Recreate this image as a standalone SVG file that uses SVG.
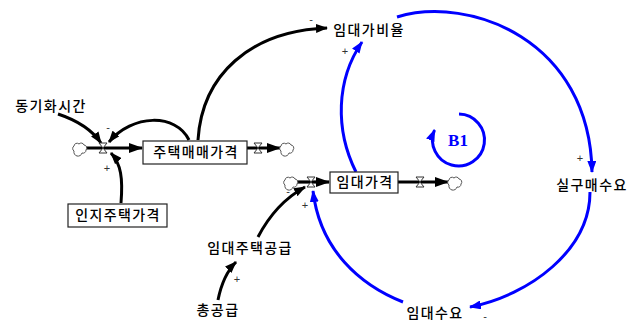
<svg xmlns="http://www.w3.org/2000/svg" width="639" height="323" viewBox="0 0 639 323">
<style>
.lbl{font-family:"Noto Sans CJK KR","Noto Sans",sans-serif;font-size:14px;font-weight:500;letter-spacing:1.4px;fill:#000;text-anchor:middle}
.box{fill:#fff;stroke:#222;stroke-width:1.2}
.pol{font-family:"Liberation Sans",sans-serif;font-size:11px;fill:#333;text-anchor:middle}
.blk{fill:none;stroke:#000;stroke-width:3}
.blu{fill:none;stroke:#0000ff;stroke-width:3}
.pipe{fill:none;stroke:#000;stroke-width:3.2}
.cloud{fill:#fff;stroke:#555;stroke-width:1}
.valve{fill:#fff;stroke:#333;stroke-width:1}
</style>
<defs>
<marker id="ab" viewBox="0 0 12 9" refX="11" refY="4.5" markerWidth="12" markerHeight="9" markerUnits="userSpaceOnUse" orient="auto"><path d="M0,0 L12,4.5 L0,9 z" fill="#000"/></marker>
<marker id="au" viewBox="0 0 12 9" refX="11" refY="4.5" markerWidth="12" markerHeight="9" markerUnits="userSpaceOnUse" orient="auto"><path d="M0,0 L12,4.5 L0,9 z" fill="#0000ff"/></marker>
<marker id="af" viewBox="0 0 14 10" refX="13" refY="5" markerWidth="14" markerHeight="10" markerUnits="userSpaceOnUse" orient="auto"><path d="M0,0 L14,5 L0,10 z" fill="#000"/></marker>
<path id="cl" d="M-6,3 a3,3 0 0 1 0,-5 a3,3 0 0 1 5,-2 a3,3 0 0 1 5,1 a3,3 0 0 1 2,5 a3,3 0 0 1 -4,3 a3.5,3.5 0 0 1 -8,-2 z"/>
<path id="vl" d="M-4,-5 H4 L-4,5 H4 Z"/>
</defs>
<g id="connectors">
<path class="pipe" d="M86,148 L142,148" marker-end="url(#af)"/>
<path class="pipe" d="M247,148 L280,148" marker-end="url(#af)"/>
<path class="pipe" d="M297,182 L329,182" marker-end="url(#af)"/>
<path class="pipe" d="M398,182 L448,182" marker-end="url(#af)"/>
<path class="blk" d="M58,114 Q88,124 101,143" marker-end="url(#ab)"/>
<path class="blk" d="M189,140 C176,113 132,114 109,142" marker-end="url(#ab)"/>
<path class="blk" d="M121,203 C123,178 121,164 111,153" marker-end="url(#ab)"/>
<path class="blk" d="M198,140 C202,75 250,31 327,28" marker-end="url(#ab)"/>
<path class="blk" d="M258,237 C270,214 285,198 305,187" marker-end="url(#ab)"/>
<path class="blk" d="M218,300 C221,285 226,272 236,262" marker-end="url(#ab)"/>
<path class="blu" d="M356,172 C335,130 336,80 362,42" marker-end="url(#au)"/>
<path class="blu" d="M397,17 C470,-5 590,40 592,172" marker-end="url(#au)"/>
<path class="blu" d="M590,192 C590,250 530,295 470,307" marker-end="url(#au)"/>
<path class="blu" d="M403,302 C360,285 320,250 313,191" marker-end="url(#au)"/>
<path class="blu" d="M459,114 A26,26 0 1 1 434.5,130" marker-end="url(#au)"/>
</g>
<g id="valves-clouds">
<use href="#cl" class="cloud" x="80" y="148"/>
<use href="#vl" class="valve" x="103" y="148"/>
<use href="#vl" class="valve" x="258" y="148"/>
<use href="#cl" class="cloud" x="287" y="148"/>
<use href="#cl" class="cloud" x="291" y="182"/>
<use href="#vl" class="valve" x="311" y="182"/>
<use href="#vl" class="valve" x="420" y="182"/>
<use href="#cl" class="cloud" x="455" y="182"/>
</g>
<g id="n-sync"><text class="lbl" x="51" y="111">동기화시간</text></g>
<g id="n-house"><rect class="box" x="143" y="141" width="104" height="23"/><text class="lbl" x="196" y="157">주택매매가격</text></g>
<g id="n-perc"><rect class="box" x="68" y="204" width="99" height="23"/><text class="lbl" x="118" y="220">인지주택가격</text></g>
<g id="n-ratio"><text class="lbl" x="369" y="35">임대가비율</text></g>
<g id="n-rent"><rect class="box" x="330" y="172" width="68" height="21"/><text class="lbl" x="365" y="187">임대가격</text></g>
<g id="n-buy"><text class="lbl" x="592" y="190">실구매수요</text></g>
<g id="n-supply"><text class="lbl" x="250" y="253">임대주택공급</text></g>
<g id="n-total"><text class="lbl" x="218" y="315">총공급</text></g>
<g id="n-demand"><text class="lbl" x="435" y="318">임대수요</text></g>
<g id="b1"><text x="458" y="146" font-family="Liberation Serif,serif" font-weight="bold" font-size="17" fill="#0000ff" text-anchor="middle">B1</text></g>
<g id="polarities">
<text class="pol" x="108" y="131">-</text>
<text class="pol" x="107" y="172">+</text>
<text class="pol" x="311" y="23">-</text>
<text class="pol" x="345" y="55">+</text>
<text class="pol" x="580" y="162">+</text>
<text class="pol" x="485" y="320">-</text>
<text class="pol" x="305" y="209">+</text>
<text class="pol" x="288" y="195">-</text>
<text class="pol" x="237" y="283">+</text>
</g>
</svg>
